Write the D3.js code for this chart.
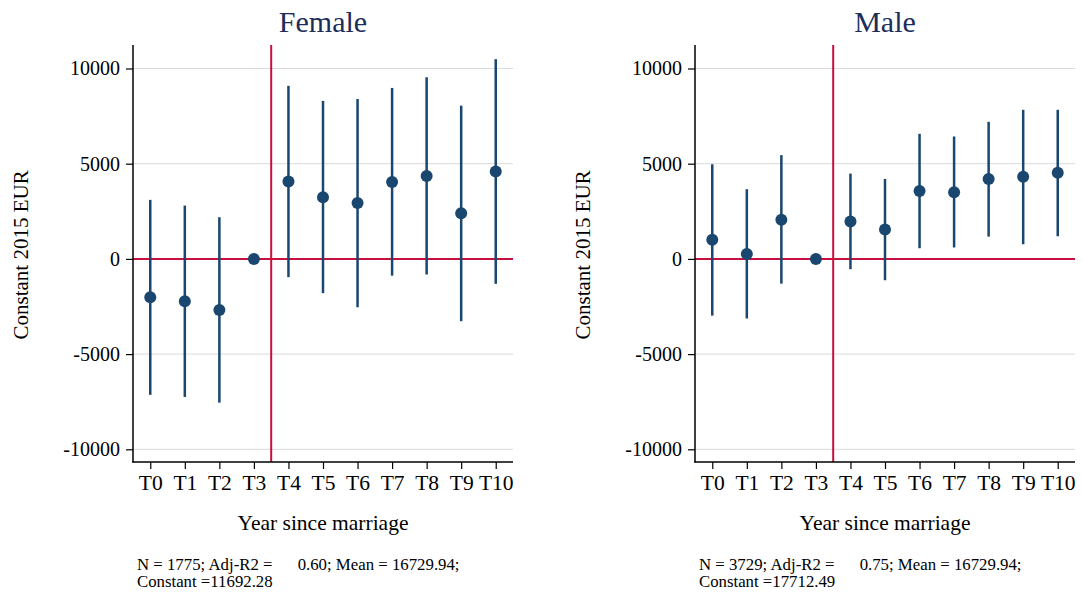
<!DOCTYPE html>
<html>
<head>
<meta charset="utf-8">
<script src="https://cdn.jsdelivr.net/npm/d3@7"></script>
<style>
  body { margin: 0; background: #fff; }
  text { font-family: "Liberation Serif", "DejaVu Serif", serif; }
</style>
</head>
<body>
<svg id="chart" width="1082" height="596"></svg>
<script>
// data
const periods = ["T0", "T1", "T2", "T3", "T4", "T5", "T6", "T7", "T8", "T9", "T10"];
const yTicks = [-10000, -5000, 0, 5000, 10000];

const femaleEst = [-2010, -2220, -2680, 0, 4060, 3240, 2930, 4040, 4360, 2400, 4590];
const femaleLo = [-7140, -7250, -7550, null, -960, -1800, -2540, -880, -820, -3270, -1310];
const femaleHi = [3100, 2800, 2190, null, 9090, 8300, 8400, 8980, 9540, 8050, 10490];

const maleEst = [1000, 260, 2060, 0, 1960, 1540, 3560, 3500, 4200, 4310, 4520];
const maleLo = [-2980, -3130, -1300, null, -540, -1120, 560, 600, 1170, 770, 1190];
const maleHi = [4970, 3660, 5450, null, 4480, 4200, 6570, 6430, 7200, 7830, 7830];

const panels = [
  {title: "Female", est: femaleEst, lo: femaleLo, hi: femaleHi,
   note: ["N = 1775; Adj-R2 =      0.60; Mean = 16729.94;", "Constant =11692.28"], left: 133},
  {title: "Male", est: maleEst, lo: maleLo, hi: maleHi,
   note: ["N = 3729; Adj-R2 =      0.75; Mean = 16729.94;", "Constant =17712.49"], left: 695}
];

const navy = "#1a476f";
const red = "#c8103e";
const plotW = 380, plotTop = 45, plotBottom = 462;

const svg = d3.select("#chart");

const y = d3.scaleLinear()
    .domain([-10000, 10000])
    .range([449.3, 68.5]);

panels.forEach(p => {
    const g = svg.append("g");
    const x = d3.scaleLinear()
        .domain([-0.5, 10.5])
        .range([p.left, p.left + plotW]);

    // title
    g.append("text")
        .attr("x", p.left + plotW / 2)
        .attr("y", 32)
        .attr("text-anchor", "middle")
        .attr("font-size", 30)
        .attr("fill", "#1c2d5a")
        .text(p.title);

    // gridlines
    g.selectAll(".grid")
        .data(yTicks.filter(d => d !== 0))
        .enter().append("line")
        .attr("x1", p.left).attr("x2", p.left + plotW)
        .attr("y1", d => y(d)).attr("y2", d => y(d))
        .attr("stroke", "#dadada")
        .attr("stroke-width", 1);

    // reference lines
    g.append("line")
        .attr("x1", p.left).attr("x2", p.left + plotW)
        .attr("y1", y(0)).attr("y2", y(0))
        .attr("stroke", red).attr("stroke-width", 2);
    g.append("line")
        .attr("x1", x(3.5)).attr("x2", x(3.5))
        .attr("y1", plotTop).attr("y2", plotBottom)
        .attr("stroke", red).attr("stroke-width", 2);

    // y axis
    const yAxis = g.append("g")
        .attr("transform", `translate(${p.left},0)`)
        .call(d3.axisLeft(y).tickValues(yTicks).tickFormat(d => String(d))
            .tickSize(7).tickPadding(6));
    yAxis.select(".domain").remove();
    yAxis.selectAll(".tick line").attr("stroke", "#000").attr("stroke-width", 1.2);
    yAxis.selectAll(".tick text")
        .attr("font-family", "Liberation Serif, serif")
        .attr("font-size", 20)
        .attr("fill", "#000");
    g.append("line")
        .attr("x1", p.left).attr("x2", p.left)
        .attr("y1", plotTop).attr("y2", plotBottom + 0.5)
        .attr("stroke", "#000").attr("stroke-width", 1.5);

    // x axis
    const xAxis = g.append("g")
        .attr("transform", `translate(0,${plotBottom})`)
        .call(d3.axisBottom(x).tickValues(d3.range(periods.length))
            .tickFormat(i => periods[i]).tickSize(7).tickPadding(6));
    xAxis.select(".domain").remove();
    xAxis.selectAll(".tick line").attr("stroke", "#000").attr("stroke-width", 1.2);
    xAxis.selectAll(".tick text")
        .attr("font-family", "Liberation Serif, serif")
        .attr("font-size", 21.5)
        .attr("fill", "#000");
    g.append("line")
        .attr("x1", p.left - 0.75).attr("x2", p.left + plotW)
        .attr("y1", plotBottom).attr("y2", plotBottom)
        .attr("stroke", "#000").attr("stroke-width", 1.5);

    // axis titles
    g.append("text")
        .attr("x", p.left + plotW / 2)
        .attr("y", 530)
        .attr("text-anchor", "middle")
        .attr("font-size", 21.5)
        .text("Year since marriage");
    g.append("text")
        .attr("transform", `translate(${p.left - 105},${y(0) - 4}) rotate(-90)`)
        .attr("text-anchor", "middle")
        .attr("font-size", 21)
        .text("Constant 2015 EUR");

    // confidence intervals
    const rows = periods.map((d, i) => ({i, est: p.est[i], lo: p.lo[i], hi: p.hi[i]}));
    g.selectAll(".ci")
        .data(rows.filter(d => d.lo !== null))
        .enter().append("line")
        .attr("x1", d => x(d.i)).attr("x2", d => x(d.i))
        .attr("y1", d => y(d.lo)).attr("y2", d => y(d.hi))
        .attr("stroke", navy)
        .attr("stroke-width", 2.5);
    g.selectAll(".pt")
        .data(rows)
        .enter().append("circle")
        .attr("cx", d => x(d.i))
        .attr("cy", d => y(d.est))
        .attr("r", 6)
        .attr("fill", navy);

    // note
    g.append("text")
        .attr("x", p.left + 4)
        .attr("y", 570)
        .attr("font-size", 16.8)
        .style("white-space", "pre")
        .selectAll("tspan")
        .data(p.note)
        .enter().append("tspan")
        .attr("x", p.left + 4)
        .attr("dy", (d, i) => i === 0 ? 0 : 17)
        .text(d => d);
});
</script>
</body>
</html>
